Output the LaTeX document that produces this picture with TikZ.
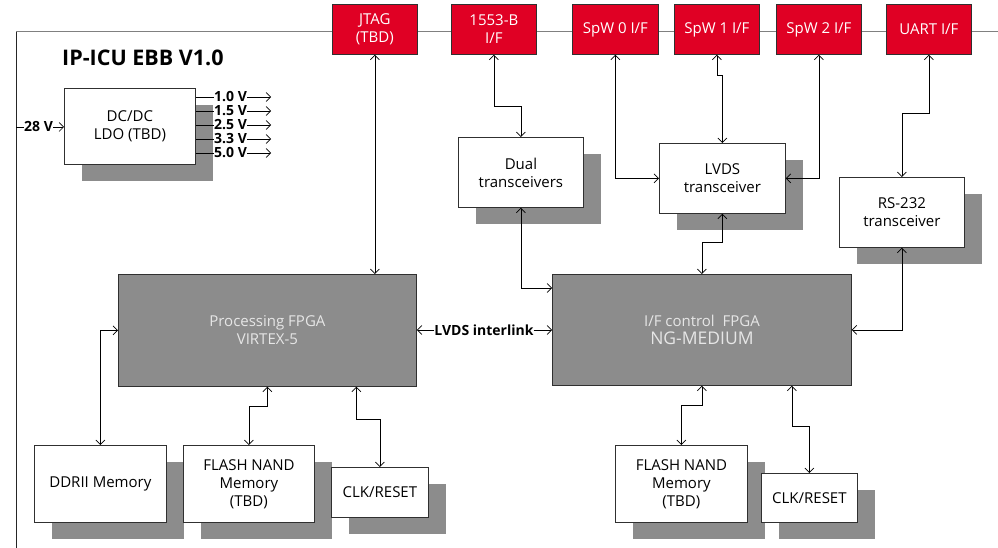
\documentclass[tikz,border=0pt]{standalone}
\usepackage{fontspec}
\setmainfont{Open Sans}
\usetikzlibrary{arrows.meta,shadows}
\definecolor{ifred}{HTML}{E00024}
\definecolor{boxgray}{HTML}{8C8C8C}
\definecolor{linegray}{HTML}{808080}
\definecolor{fpgatext}{HTML}{E6E6E6}
\definecolor{edge}{HTML}{303030}
\tikzset{
  x=1pt, y=-1pt,
  base/.style={anchor=north west, inner sep=0pt, align=center, line width=0.8pt,
    font=\fontsize{15}{18}\selectfont},
  redbox/.style={base, draw=edge, fill=ifred, text=white},
  whitebox/.style={base, draw=edge, fill=white, text=black,
    general shadow={fill=boxgray, shadow xshift=18pt, shadow yshift=-17pt}},
  fpgabox/.style={base, draw=edge, fill=boxgray, text=fpgatext},
  lbl/.style={inner sep=0pt, font=\bfseries\fontsize{14}{16}\selectfont},
  tipb/.tip={Straight Barb[length=4.5pt,width=9pt,line width=0.7pt]},
  conn/.style={draw=black, line width=0.7pt, tipb-tipb},
  conn1/.style={draw=black, line width=0.7pt, -tipb},
  plain/.style={draw=black, line width=0.7pt},
}
\begin{document}
\begin{tikzpicture}
\useasboundingbox (0,0) rectangle (998,548);
% frame
\draw[linegray, line width=1pt] (16,32) -- (998,32);
\draw[black!85, line width=1pt] (16,32) -- (16,548);
\node[anchor=west, inner sep=0pt, font=\bfseries\fontsize{21.5}{24}\selectfont] (title) at (62,58) {IP-ICU EBB V1.0};

% red interface boxes
\node[redbox, minimum width=85, minimum height=50] (jtag) at (332,4) {JTAG\\(TBD)};
\node[redbox, minimum width=85, minimum height=50] (b1553) at (451,4) {1553-B\\I/F};
\node[redbox, minimum width=86, minimum height=50] (spw0) at (572,4) {SpW 0 I/F};
\node[redbox, minimum width=85, minimum height=50] (spw1) at (674,4) {SpW 1 I/F};
\node[redbox, minimum width=85, minimum height=50] (spw2) at (776,4) {SpW 2 I/F};
\node[redbox, minimum width=85, minimum height=50] (uart) at (886,4) {UART I/F};

% white boxes
\node[whitebox, minimum width=131, minimum height=76] (dcdc) at (64,88) {DC/DC\\LDO (TBD)};
\node[whitebox, minimum width=125, minimum height=70] (dual) at (458,137) {Dual\\transceivers};
\node[whitebox, minimum width=126, minimum height=70] (lvds) at (659,143) {LVDS\\transceiver};
\node[whitebox, minimum width=125, minimum height=70] (rs232) at (839,177) {RS-232\\transceiver};
\node[whitebox, minimum width=132, minimum height=77] (ddr) at (34,445) {DDRII Memory};
\node[whitebox, minimum width=131, minimum height=77] (flash1) at (183,445) {FLASH NAND\\Memory\\(TBD)};
\node[whitebox, minimum width=97, minimum height=50] (clk1) at (331,467) {CLK/RESET};
\node[whitebox, minimum width=132, minimum height=77] (flash2) at (615,445) {FLASH NAND\\Memory\\(TBD)};
\node[whitebox, minimum width=96, minimum height=49] (clk2) at (761,473) {CLK/RESET};

% FPGAs
\node[fpgabox, minimum width=298, minimum height=112] (pfpga) at (118,274) {Processing FPGA\\VIRTEX-5};
\node[fpgabox, minimum width=299, minimum height=111] (iffpga) at (552,274)
  {I/F control\ \ FPGA\\[0pt]{\fontsize{17.5}{20}\selectfont NG-MEDIUM}};

% power
\coordinate (f28) at (16,127);
\node[lbl, anchor=west] (l28) at (24,127) {28 V};
\draw[plain] (f28) -- (l28.west);
\draw[conn1] (l28.east) -- (dcdc.west |- l28.east);
\foreach \y/\v [count=\i] in {97/1.0, 111/1.5, 125/2.5, 139/3.3, 153/5.0}{
  \node[lbl, anchor=west] (v\i) at (214,\y) {\v\ V};
  \coordinate (ve\i) at (271,\y);
  \draw[plain] (dcdc.east |- v\i.west) -- (v\i.west);
  \draw[conn1] (v\i.east) -- (ve\i);
}

% connections
\draw[conn] (jtag.south) -- (jtag.south |- pfpga.north);
\draw[conn] (b1553.south) -- ++(0,52) -| (dual.north);
\draw[conn] (dual.south) |- ([yshift=-14pt]iffpga.north west);
\draw[conn] (spw0.south) |- (lvds.west);
\draw[conn] (spw1.south) -- ++(0,21) -| (lvds.north);
\draw[conn] (spw2.south) |- (lvds.east);
\draw[conn] (lvds.south) -- ++(0,29) -| (iffpga.north);
\draw[conn] (uart.south) -- ++(0,59) -| (rs232.north);
\draw[conn] (rs232.south) |- (iffpga.east);

\node[lbl] (link) at (484,330) {LVDS interlink};
\draw[conn1] (link.west) -- (pfpga.east |- link.west);
\draw[conn1] (link.east) -- (iffpga.west |- link.east);

\draw[conn] (pfpga.west) -| (ddr.north);
\draw[conn] (pfpga.south) -- ++(0,20) -| (flash1.north);
\draw[conn] ([xshift=89pt]pfpga.south) -- ++(0,33) -| (clk1.north);
\draw[conn] (iffpga.south) -- ++(0,20) -| (flash2.north);
\draw[conn] ([xshift=90pt]iffpga.south) -- ++(0,41) -| (clk2.north);
\end{tikzpicture}
\end{document}
